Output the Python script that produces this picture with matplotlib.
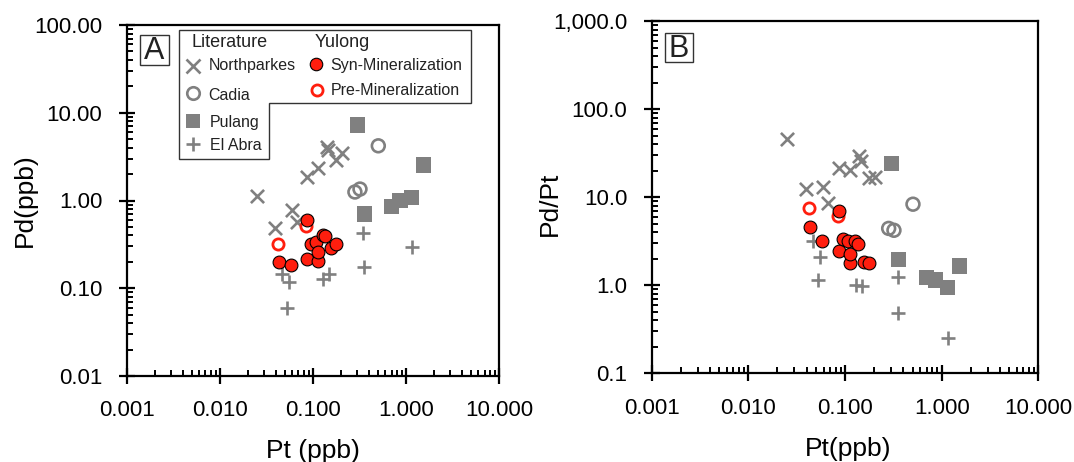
import numpy as np
import matplotlib
matplotlib.use("Agg")
import matplotlib.pyplot as plt
from matplotlib.patches import Polygon, Rectangle
from matplotlib.lines import Line2D
from matplotlib.ticker import FixedLocator, FixedFormatter, LogLocator, NullFormatter

plt.rcParams["font.family"] = ["Liberation Sans", "DejaVu Sans"]

# ---- data: Pt and Pd in ppb (panel B plots Pd/Pt vs Pt) ----
northparkes_pt = [0.0249, 0.0392, 0.0592, 0.067, 0.0857, 0.114, 0.1406, 0.1466, 0.177, 0.204]
northparkes_pd = [1.13, 0.48, 0.78, 0.57, 1.86, 2.32, 4.09, 3.76, 2.89, 3.44]
cadia_pt = [0.505, 0.283, 0.321]
cadia_pd = [4.2, 1.25, 1.35]
pulang_pt = [0.303, 1.535, 0.357, 0.70, 0.862, 1.15]
pulang_pd = [7.25, 2.54, 0.70, 0.85, 0.99, 1.08]
elabra_pt = [0.35, 1.15, 0.356, 0.0462, 0.0557, 0.129, 0.150, 0.053]
elabra_pd = [0.43, 0.292, 0.173, 0.147, 0.118, 0.129, 0.147, 0.060]
syn_pt = [0.0436, 0.0578, 0.0857, 0.0871, 0.114, 0.0955, 0.107, 0.114, 0.127, 0.135, 0.156, 0.177]
syn_pd = [0.200, 0.183, 0.598, 0.215, 0.205, 0.318, 0.338, 0.260, 0.404, 0.393, 0.284, 0.318]
pre_pt = [0.0425, 0.0843]
pre_pd = [0.318, 0.51]

x_ticks = [0.001, 0.01, 0.1, 1, 10]
x_labels = ["0.001", "0.010", "0.100", "1.000", "10.000"]
ya_ticks = [0.01, 0.1, 1, 10, 100]
ya_labels = ["0.01", "0.10", "1.00", "10.00", "100.00"]
yb_ticks = [0.1, 1, 10, 100, 1000]
yb_labels = ["0.1", "1.0", "10.0", "100.0", "1,000.0"]

GRAY = "#808080"
RED = "#ff1e0e"
W, H = 1074, 462


def fx(px):
    return px / W


def fy(py):
    return 1 - py / H


fig = plt.figure(figsize=(W / 100, H / 100), dpi=100)
ax_a = fig.add_axes([fx(126.7), fy(376), fx(499) - fx(126.7), fy(25) - fy(376)])
ax_b = fig.add_axes([fx(651.7), fy(373.3), fx(1038.3) - fx(651.7), fy(21) - fy(373.3)])


def style(ax, yticks, ylabels):
    ax.set_xscale("log")
    ax.set_yscale("log")
    ax.set_xlim(x_ticks[0], x_ticks[-1])
    ax.set_ylim(yticks[0], yticks[-1])
    ax.xaxis.set_major_locator(FixedLocator(x_ticks))
    ax.xaxis.set_major_formatter(FixedFormatter(x_labels))
    ax.yaxis.set_major_locator(FixedLocator(yticks))
    ax.yaxis.set_major_formatter(FixedFormatter(ylabels))
    for axis in (ax.xaxis, ax.yaxis):
        axis.set_minor_locator(LogLocator(base=10, subs=np.arange(2, 10), numticks=20))
        axis.set_minor_formatter(NullFormatter())
    ax.tick_params(which="major", direction="inout", length=11, width=1.6,
                   labelsize=16, pad=12, top=False, right=False)
    ax.tick_params(which="minor", direction="in", length=4.5, width=1.4,
                   top=False, right=False)
    for s in ax.spines.values():
        s.set_linewidth(1.6)


def draw(ax, ratio):
    def yv(pt, pd):
        pt = np.array(pt)
        pd = np.array(pd)
        return pd / pt if ratio else pd
    ax.scatter(northparkes_pt, yv(northparkes_pt, northparkes_pd), marker="x", s=90,
               color=GRAY, linewidths=1.9, zorder=3)
    ax.scatter(cadia_pt, yv(cadia_pt, cadia_pd), marker="o", s=85, facecolors="none",
               edgecolors=GRAY, linewidths=1.9, zorder=3)
    ax.scatter(pulang_pt, yv(pulang_pt, pulang_pd), marker="s", s=120, color=GRAY,
               edgecolors="none", zorder=3)
    ax.scatter(elabra_pt, yv(elabra_pt, elabra_pd), marker="+", s=90, color=GRAY,
               linewidths=1.9, zorder=3)
    ax.scatter(pre_pt, yv(pre_pt, pre_pd), marker="o", s=65, facecolors="white",
               edgecolors=RED, linewidths=2.0, zorder=4)
    ax.scatter(syn_pt, yv(syn_pt, syn_pd), marker="o", s=85, color=RED,
               edgecolors="black", linewidths=0.8, zorder=5)


style(ax_a, ya_ticks, ya_labels)
style(ax_b, yb_ticks, yb_labels)
draw(ax_a, False)
draw(ax_b, True)

ax_a.set_ylabel("Pd(ppb)", fontsize=19)
ax_a.set_xlabel("Pt (ppb)", fontsize=19)
ax_b.set_ylabel("Pd/Pt", fontsize=19)
ax_b.set_xlabel("Pt(ppb)", fontsize=19)
ax_a.yaxis.set_label_coords(-0.241, 0.5)
ax_a.xaxis.set_label_coords(0.5, -0.18)
ax_b.yaxis.set_label_coords(-0.232, 0.48)
ax_b.xaxis.set_label_coords(0.508, -0.18)

# panel letters in boxes
for (x0, y0, x1, y1, letter) in [(140, 35.5, 169, 64.5, "A"), (665, 33.3, 693, 62.3, "B")]:
    fig.add_artist(Rectangle((fx(x0), fy(y1)), fx(x1) - fx(x0), fy(y0) - fy(y1),
                             transform=fig.transFigure, fill=False,
                             edgecolor="#333333", linewidth=1.0))
    fig.text(fx((x0 + x1) / 2), fy((y0 + y1) / 2 + 1), letter, fontsize=22,
             ha="center", va="center", color="#222222")

# stepped legend box in panel A
poly = [(179, 30), (470.5, 30), (470.5, 103.3), (269.3, 103.3), (269.3, 159.3), (179, 159.3)]
fig.add_artist(Polygon([(fx(x), fy(y)) for x, y in poly], closed=True,
                       transform=fig.transFigure, facecolor="white",
                       edgecolor="#333333", linewidth=1.0, zorder=6))

lt = dict(fontsize=11.5, va="center", ha="left", color="#222222", zorder=7)
hd = dict(lt, fontsize=13)
fig.text(fx(191.7), fy(42.7), "Literature", **hd)
fig.text(fx(315), fy(42.7), "Yulong", **hd)
fig.text(fx(208.3), fy(65.7), "Northparkes", **lt)
fig.text(fx(208.3), fy(95), "Cadia", **lt)
fig.text(fx(210), fy(122.3), "Pulang", **lt)
fig.text(fx(210), fy(145), "El Abra", **lt)
fig.text(fx(330.7), fy(65.7), "Syn-Mineralization", **lt)
fig.text(fx(330.7), fy(90.7), "Pre-Mineralization", **lt)

mk = [
    (193.3, 65.7, dict(marker="x", markersize=9.5, color=GRAY, markeredgewidth=1.9)),
    (193.3, 93.3, dict(marker="o", markersize=9, markerfacecolor="none",
                       markeredgecolor=GRAY, markeredgewidth=1.9)),
    (193.3, 120.7, dict(marker="s", markersize=10.5, color=GRAY, markeredgewidth=0)),
    (193.3, 144, dict(marker="+", markersize=9.5, color=GRAY, markeredgewidth=1.9)),
    (316, 64, dict(marker="o", markersize=9, markerfacecolor=RED,
                   markeredgecolor="black", markeredgewidth=0.8)),
    (316.7, 90, dict(marker="o", markersize=8, markerfacecolor="white",
                     markeredgecolor=RED, markeredgewidth=2.0)),
]
for x, y, kw in mk:
    fig.add_artist(Line2D([fx(x)], [fy(y)], transform=fig.transFigure,
                          linestyle="none", zorder=7, **kw))

fig.savefig("out.png", dpi=100)
